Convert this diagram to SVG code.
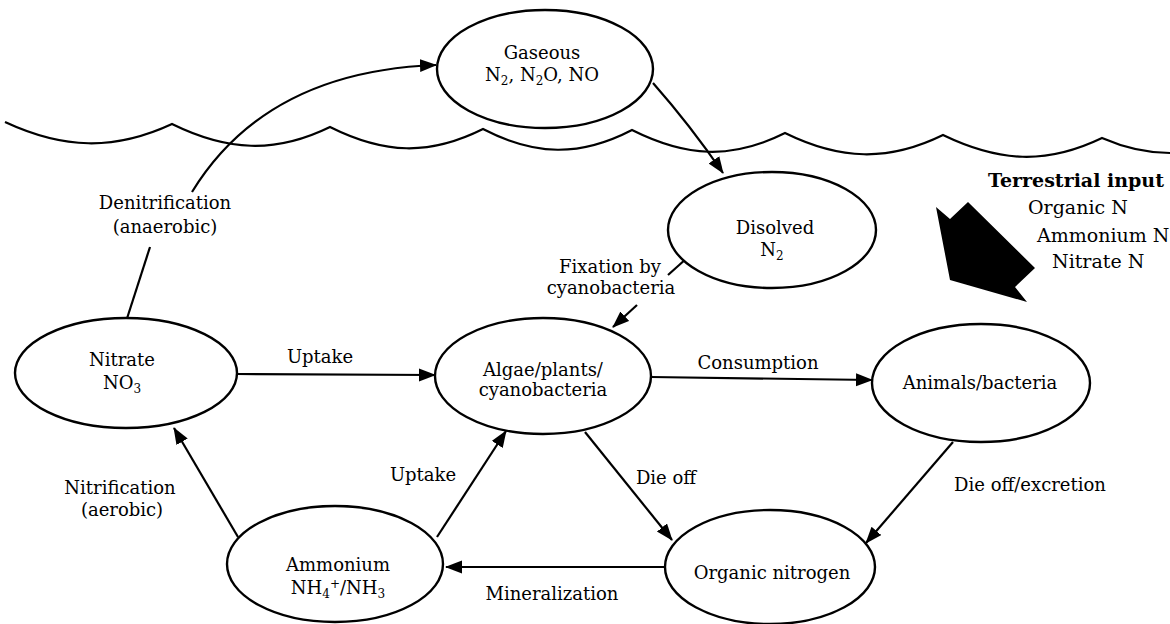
<svg xmlns="http://www.w3.org/2000/svg" width="1170" height="624" viewBox="0 0 1170 624">
<defs>
<style>
.node ellipse{fill:#fff;stroke:#000;stroke-width:2.4}
text{font-family:"DejaVu Serif","Liberation Serif",serif;font-size:18px;fill:#000}
.c{text-anchor:middle}
.t{font-size:19px}
.b{font-weight:bold}
.conn path{fill:none;stroke:#000;stroke-width:2.2}
.sub{font-size:12px}
</style>
<marker id="ah" markerUnits="userSpaceOnUse" markerWidth="18" markerHeight="14" refX="16" refY="6.5" orient="auto">
<path d="M0,0 L17,6.5 L0,13 z" fill="#000"/>
</marker>
</defs>
<rect width="1170" height="624" fill="#fff"/>
<g id="water-surface">
<path d="M5,122 C63,149 114,151 172,124 C227,151 275,154 330,127 C384,154 429,156 483,129 C535,156 580,157 632,130 C686,157 731,160 785,133 C840,160 888,162 943,135 C999,162 1046,165 1102,138 C1125,148 1150,153 1170,153" fill="none" stroke="#000" stroke-width="2.2"/>
</g>
<g class="conn" id="connectors">
<path d="M122,334 L150,247"/>
<path d="M192,192 C230,130 300,70 436,65" marker-end="url(#ah)"/>
<path d="M653,83 Q690,125 723,173" marker-end="url(#ah)"/>
<path d="M687,258 L668,275"/>
<path d="M637,305 L613,327" marker-end="url(#ah)"/>
<path d="M237,374 L435,375" marker-end="url(#ah)"/>
<path d="M651,377 L872,380" marker-end="url(#ah)"/>
<path d="M953,442 L866,543" marker-end="url(#ah)"/>
<path d="M585,432 L672,540" marker-end="url(#ah)"/>
<path d="M665,567 L446,567" marker-end="url(#ah)"/>
<path d="M437,537 L506,431" marker-end="url(#ah)"/>
<path d="M238,537 L174,428" marker-end="url(#ah)"/>
</g>
<g id="labels">
<text class="c" x="165" y="209">Denitrification</text>
<text class="c" x="165" y="233">(anaerobic)</text>
<text class="c" x="610" y="273">Fixation by</text>
<text class="c" x="611" y="294">cyanobacteria</text>
<text class="c" x="320" y="363">Uptake</text>
<text class="c" x="758" y="369">Consumption</text>
<text class="c" x="1030" y="491">Die off/excretion</text>
<text class="c" x="666" y="484">Die off</text>
<text class="c" x="423" y="481">Uptake</text>
<text class="c" x="552" y="600">Mineralization</text>
<text class="c" x="120" y="494">Nitrification</text>
<text class="c" x="122" y="516">(aerobic)</text>
</g>
<g class="node" id="gaseous">
<ellipse cx="545" cy="69" rx="108" ry="59"/>
<text class="c" x="542" y="59">Gaseous</text>
<text class="c" x="542" y="81">N<tspan class="sub" dy="4">2</tspan><tspan dy="-4">, N</tspan><tspan class="sub" dy="4">2</tspan><tspan dy="-4">O, NO</tspan></text>
</g>
<g class="node" id="dissolved">
<ellipse cx="772" cy="230" rx="104" ry="58"/>
<text class="c" x="775" y="234">Disolved</text>
<text class="c" x="772" y="256">N<tspan class="sub" dy="4">2</tspan></text>
</g>
<g class="node" id="nitrate">
<ellipse cx="126" cy="373" rx="111" ry="55"/>
<text class="c" x="122" y="366">Nitrate</text>
<text class="c" x="122" y="389">NO<tspan class="sub" dy="4">3</tspan></text>
</g>
<g class="node" id="algae">
<ellipse cx="543" cy="376" rx="108" ry="58"/>
<text class="c" x="543" y="376">Algae/plants/</text>
<text class="c" x="543" y="396">cyanobacteria</text>
</g>
<g class="node" id="animals">
<ellipse cx="981" cy="383" rx="109" ry="59"/>
<text class="c" x="980" y="389">Animals/bacteria</text>
</g>
<g class="node" id="organic">
<ellipse cx="770" cy="567" rx="105" ry="57"/>
<text class="c" x="772" y="579">Organic nitrogen</text>
</g>
<g class="node" id="ammonium">
<ellipse cx="335" cy="564" rx="108" ry="58"/>
<text class="c" x="338" y="571">Ammonium</text>
<text class="c" x="338" y="594">NH<tspan class="sub" dy="4">4</tspan><tspan class="sub" dy="-10">+</tspan><tspan dy="6">/NH</tspan><tspan class="sub" dy="4">3</tspan></text>
</g>
<g id="terrestrial">
<polygon points="936,207 950,219 968,202 1035,268 1015,287 1027,302 950,280" fill="#000"/>
<text class="t b" x="988" y="187">Terrestrial input</text>
<text class="t" x="1028" y="214">Organic N</text>
<text class="t" x="1037" y="242">Ammonium N</text>
<text class="t" x="1052" y="268">Nitrate N</text>
</g>
</svg>
